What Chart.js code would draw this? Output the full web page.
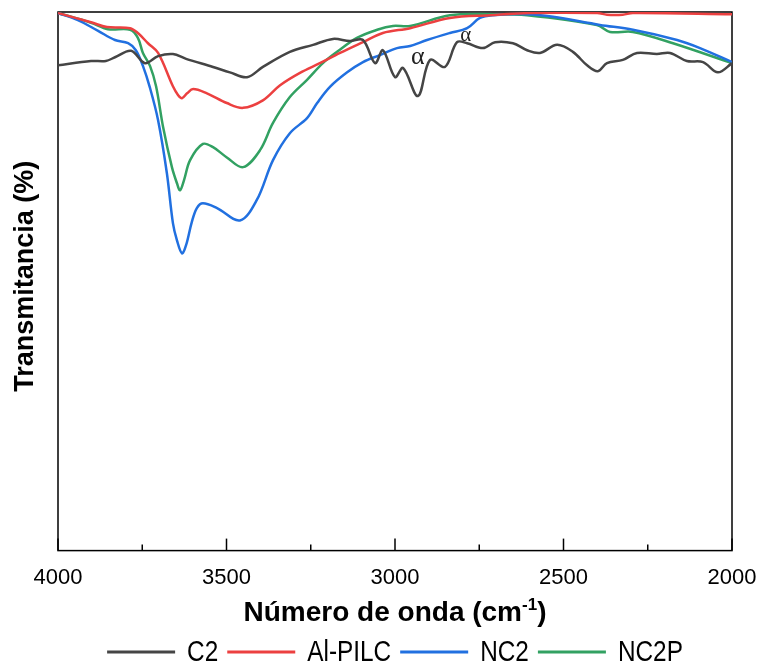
<!DOCTYPE html>
<html>
<head>
<meta charset="utf-8">
<script src="https://cdn.jsdelivr.net/npm/chart.js@4.4.0/dist/chart.umd.min.js"></script>
<style>
  html, body { margin: 0; padding: 0; background: #fff; }
</style>
</head>
<body>
<canvas id="ftirChart" width="759" height="667"></canvas>
<script>
// Series names and colours
const seriesNames = ['C2', 'Al-PILC', 'NC2', 'NC2P'];
const seriesColors = ['#454545', '#ec4040', '#2170e0', '#32a162'];

// x axis tick labels (cm-1)
const xTicks = [4000, 3500, 3000, 2500, 2000];

// C2
const c2Wn = [4000, 3902, 3858, 3831, 3783, 3742, 3703, 3659, 3620, 3540, 3490, 3439, 3392, 3312, 3243, 3184, 3134, 3095,
  3059, 3036, 3000, 2976, 2932, 2896, 2852, 2816, 2786, 2739, 2703, 2650, 2608, 2570, 2519, 2472, 2430, 2398, 2371,
  2324, 2282, 2223, 2184, 2134, 2086, 2042, 2000];
const c2T = [90.1, 90.9, 90.9, 91.6, 92.8, 90.5, 91.8, 92.2, 91.3, 89.8, 88.8, 87.9, 89.8, 92.6, 93.9, 95.0, 94.6, 94.8,
  90.5, 92.9, 87.9, 89.6, 84.4, 91.1, 89.8, 94.4, 94.2, 93.3, 94.4, 94.2, 92.9, 92.4, 93.9, 92.6, 90.1, 89.0, 90.5,
  91.1, 92.4, 92.2, 92.4, 90.9, 90.7, 88.8, 90.5];

// Al-PILC
const alWn = [4000, 3902, 3855, 3786, 3763, 3733, 3703, 3659, 3644, 3632, 3617, 3599, 3558, 3499, 3451, 3392, 3341, 3282, 3223,
  3163, 3095, 3036, 2955, 2837, 2718, 2600, 2400, 2371, 2324, 2294, 2000];
const alT = [99.8, 98.1, 97.2, 97.0, 96.1, 94.2, 92.4, 86.2, 84.6, 84.0, 84.9, 85.7, 84.9, 83.1, 82.2, 83.6, 86.4, 88.7, 90.5,
  92.4, 94.4, 96.1, 97.0, 98.9, 99.4, 99.8, 99.8, 99.5, 99.5, 99.8, 99.6];

// NC2
const nc2Wn = [4000, 3941, 3881, 3831, 3792, 3769, 3748, 3727, 3703, 3677, 3659, 3647, 3632, 3620, 3603, 3588, 3570, 3528, 3460,
  3410, 3362, 3312, 3261, 3231, 3193, 3142, 3095, 3045, 2994, 2955, 2905, 2837, 2786, 2748, 2709, 2608, 2531, 2392, 2294,
  2163, 2095, 2000];
const nc2T = [99.8, 98.5, 96.5, 94.8, 94.2, 92.9, 90.0, 85.9, 79.9, 70.1, 60.8, 57.6, 55.2, 56.7, 61.0, 63.6, 64.5, 63.6, 61.3,
  65.1, 72.5, 77.5, 80.3, 83.1, 86.1, 88.8, 90.7, 92.0, 93.3, 93.7, 94.8, 96.1, 97.0, 98.9, 99.4, 99.6, 99.1, 97.6, 96.7,
  94.8, 93.3, 90.7];

// NC2P
const nc2pWn = [4000, 3902, 3852, 3786, 3763, 3748, 3727, 3709, 3688, 3662, 3647, 3638, 3626, 3608, 3570, 3540, 3499, 3451,
  3401, 3362, 3312, 3261, 3214, 3172, 3113, 3053, 3006, 2955, 2837, 2709, 2608, 2401, 2362, 2294, 2175, 2000];
const nc2pT = [99.8, 98.0, 96.8, 96.7, 95.2, 92.4, 90.0, 86.2, 78.6, 71.2, 68.2, 66.9, 68.8, 72.5, 75.5, 74.9, 73.0, 71.2,
  74.3, 79.4, 84.2, 87.4, 90.5, 92.6, 95.2, 96.7, 97.4, 97.4, 99.4, 99.6, 99.4, 97.6, 96.3, 96.3, 94.2, 90.5];

// alpha marks on C2
const alphaWn = [2932, 2790];
const alphaT = [91.6, 95.6];

const wnSets = [c2Wn, alWn, nc2Wn, nc2pWn];
const tSets = [c2T, alT, nc2T, nc2pT];

const FONT = "'Liberation Sans', Arial, sans-serif";

// frame, inward ticks, titles, alpha marks and legend
const decorPlugin = {
  id: 'decor',
  beforeDatasetsDraw(chart) {
    const { ctx, chartArea: a, scales: { x } } = chart;
    ctx.save();
    ctx.strokeStyle = '#000';
    ctx.lineWidth = 1.5;
    ctx.strokeRect(a.left, a.top, a.right - a.left, a.bottom - a.top);
    for (let v = 2000; v <= 4000; v += 250) {
      const px = x.getPixelForValue(v);
      const len = v % 500 === 0 ? 12 : 6;
      ctx.beginPath();
      ctx.moveTo(px, a.bottom);
      ctx.lineTo(px, a.bottom - len);
      ctx.stroke();
    }
    ctx.restore();
  },
  afterDraw(chart) {
    const { ctx, chartArea: a, scales: { x, y } } = chart;
    ctx.save();
    ctx.fillStyle = '#000';

    // y title
    ctx.save();
    ctx.translate(26, (a.top + a.bottom) / 2 - 5);
    ctx.rotate(-Math.PI / 2);
    ctx.font = 'bold 27px ' + FONT;
    ctx.textAlign = 'center';
    ctx.textBaseline = 'middle';
    ctx.fillText('Transmitancia (%)', 0, 0);
    ctx.restore();

    // x title with superscript
    const main = 'Número de onda (cm', sup = '-1', close = ')';
    ctx.font = 'bold 28px ' + FONT;
    const wMain = ctx.measureText(main).width;
    const wClose = ctx.measureText(close).width;
    ctx.font = 'bold 17px ' + FONT;
    const wSup = ctx.measureText(sup).width;
    let tx = (a.left + a.right) / 2 - (wMain + wSup + wClose) / 2;
    const ty = 621;
    ctx.textAlign = 'left';
    ctx.textBaseline = 'alphabetic';
    ctx.font = 'bold 28px ' + FONT;
    ctx.fillText(main, tx, ty);
    tx += wMain;
    ctx.font = 'bold 17px ' + FONT;
    ctx.fillText(sup, tx, ty - 11);
    tx += wSup;
    ctx.font = 'bold 28px ' + FONT;
    ctx.fillText(close, tx, ty);

    // alpha marks
    ctx.fillStyle = '#222';
    ctx.textAlign = 'center';
    ctx.textBaseline = 'middle';
    alphaWn.forEach((wn, i) => {
      ctx.font = (i === 0 ? 26 : 21) + "px 'Liberation Serif', serif";
      ctx.fillText('α', x.getPixelForValue(wn), y.getPixelForValue(alphaT[i]));
    });

    // legend (narrow text)
    const lineLen = 68, gap = 12, spacing = 9, ly = 652, squeeze = 0.84;
    ctx.font = '29px ' + FONT;
    const widths = seriesNames.map(n => ctx.measureText(n).width * squeeze);
    const total = widths.reduce((s, w) => s + lineLen + gap + w, 0) + spacing * (seriesNames.length - 1);
    let lx = (a.left + a.right) / 2 - total / 2;
    ctx.textAlign = 'left';
    ctx.fillStyle = '#000';
    seriesNames.forEach((n, i) => {
      ctx.strokeStyle = seriesColors[i];
      ctx.lineWidth = 3;
      ctx.beginPath();
      ctx.moveTo(lx, ly);
      ctx.lineTo(lx + lineLen, ly);
      ctx.stroke();
      lx += lineLen + gap;
      ctx.save();
      ctx.translate(lx, ly + 1);
      ctx.scale(squeeze, 1);
      ctx.fillText(n, 0, 0);
      ctx.restore();
      lx += widths[i] + spacing;
    });
    ctx.restore();
  }
};

const datasets = seriesNames.map((name, i) => ({
  label: name,
  data: wnSets[i].map((wn, j) => ({ x: wn, y: tSets[i][j] })),
  borderColor: seriesColors[i],
  backgroundColor: seriesColors[i],
  borderWidth: 2.5,
  pointRadius: 0,
  tension: 0.35,
  fill: false
}));

const ctx = document.getElementById('ftirChart').getContext('2d');
new Chart(ctx, {
  type: 'line',
  data: { datasets },
  options: {
    responsive: false,
    animation: false,
    layout: { padding: { left: 58, right: 27, top: 12, bottom: 62 } },
    plugins: {
      legend: { display: false },
      tooltip: { enabled: false }
    },
    scales: {
      x: {
        type: 'linear',
        reverse: true,
        min: 2000,
        max: 4000,
        afterBuildTicks: (scale) => { scale.ticks = xTicks.map(v => ({ value: v })); },
        afterFit: (scale) => { scale.paddingLeft = 0; scale.paddingRight = 0; },
        grid: { display: false, drawTicks: false },
        border: { display: false },
        ticks: {
          padding: 14,
          color: '#000',
          maxRotation: 0,
          font: { family: FONT, size: 22 },
          callback: (v) => String(v)
        }
      },
      y: {
        min: 0,
        max: 100,
        display: true,
        grid: { display: false, drawTicks: false },
        border: { display: false },
        ticks: { display: false }
      }
    }
  },
  plugins: [decorPlugin]
});
</script>
</body>
</html>
